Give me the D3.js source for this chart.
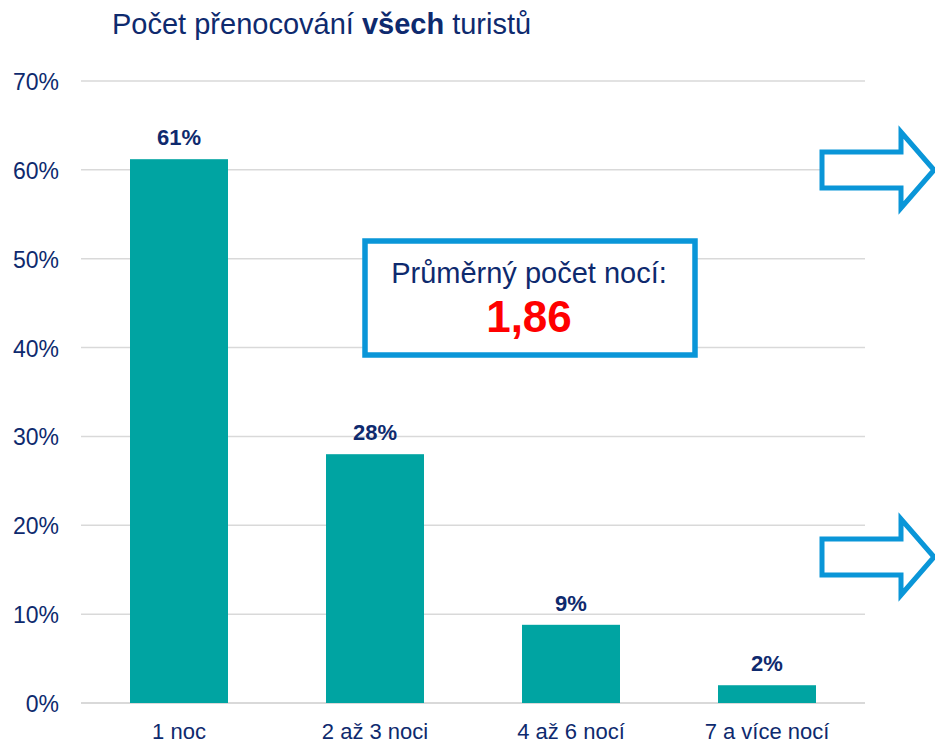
<!DOCTYPE html>
<html>
<head>
<meta charset="utf-8">
<script src="https://cdn.jsdelivr.net/npm/d3@7"></script>
<style>
  body { margin: 0; background: #fff; }
  svg { font-family: "Liberation Sans", Arial, sans-serif; }
</style>
</head>
<body>
<svg width="935" height="743"></svg>
<script>
// data
const categories = ['1 noc', '2 až 3 noci', '4 až 6 nocí', '7 a více nocí'];
const values = [61.2, 28.0, 8.8, 2.0];
const valueLabels = ['61%', '28%', '9%', '2%'];
const yTicks = [0, 10, 20, 30, 40, 50, 60, 70];
const avgLabel = 'Průměrný počet nocí:';
const avgValue = '1,86';

const navy = '#0e2a6e';
const teal = '#00a4a2';
const blue = '#0a96d8';

const $svg = d3.select('svg');
const x = d3.scaleBand().domain(categories).range([81, 865]).paddingInner(0.5).paddingOuter(0.25);
const y = d3.scaleLinear().domain([0, 70]).range([703, 81]);

// title
const title = $svg.append('text')
  .attr('x', 112).attr('y', 34)
  .attr('font-size', 29).attr('fill', navy);
title.append('tspan').text('Počet přenocování ');
title.append('tspan').attr('font-weight', 'bold').text('všech');
title.append('tspan').text(' turistů');

// gridlines
$svg.selectAll('line.grid')
  .data(yTicks)
  .enter()
  .append('line')
    .attr('class', 'grid')
    .attr('x1', 81).attr('x2', 865)
    .attr('y1', d => y(d)).attr('y2', d => y(d))
    .attr('stroke', '#d9d9d9')
    .attr('stroke-width', d => d === 0 ? 2 : 1.5);

// y tick labels
$svg.selectAll('text.ytick')
  .data(yTicks)
  .enter()
  .append('text')
    .attr('class', 'ytick')
    .attr('x', 59).attr('y', d => y(d) + 9)
    .attr('text-anchor', 'end')
    .attr('font-size', 23).attr('fill', navy)
    .text(d => d + '%');

// bars
$svg.selectAll('rect.bar')
  .data(values)
  .enter()
  .append('rect')
    .attr('class', 'bar')
    .attr('x', (d, i) => x(categories[i]))
    .attr('width', x.bandwidth())
    .attr('y', d => y(d))
    .attr('height', d => y(0) - y(d))
    .attr('fill', teal);

// value labels
$svg.selectAll('text.val')
  .data(values)
  .enter()
  .append('text')
    .attr('class', 'val')
    .attr('x', (d, i) => x(categories[i]) + x.bandwidth() / 2)
    .attr('y', d => y(d) - 14)
    .attr('text-anchor', 'middle')
    .attr('font-size', 22).attr('font-weight', 'bold').attr('fill', navy)
    .text((d, i) => valueLabels[i]);

// category labels
$svg.selectAll('text.cat')
  .data(categories)
  .enter()
  .append('text')
    .attr('class', 'cat')
    .attr('x', d => x(d) + x.bandwidth() / 2)
    .attr('y', 739)
    .attr('text-anchor', 'middle')
    .attr('font-size', 22).attr('fill', navy)
    .text(d => d);

// average box
$svg.append('rect')
  .attr('x', 365).attr('y', 241)
  .attr('width', 330).attr('height', 114)
  .attr('fill', '#fff')
  .attr('stroke', blue).attr('stroke-width', 5.5);
$svg.append('text')
  .attr('x', 529).attr('y', 283)
  .attr('text-anchor', 'middle')
  .attr('font-size', 29).attr('fill', navy)
  .text(avgLabel);
$svg.append('text')
  .attr('x', 529).attr('y', 332)
  .attr('text-anchor', 'middle')
  .attr('font-size', 44).attr('font-weight', 'bold').attr('fill', '#ff0000')
  .text(avgValue);

// arrows
function arrow(cy) {
  const p = [
    [822, cy - 18], [901, cy - 18], [901, cy - 38], [934, cy],
    [901, cy + 38], [901, cy + 18], [822, cy + 18]
  ];
  $svg.append('path')
    .attr('d', d3.line()(p) + 'Z')
    .attr('fill', '#fff')
    .attr('stroke', blue).attr('stroke-width', 5)
    .attr('stroke-linejoin', 'miter');
}
arrow(170);
arrow(557);
</script>
</body>
</html>
